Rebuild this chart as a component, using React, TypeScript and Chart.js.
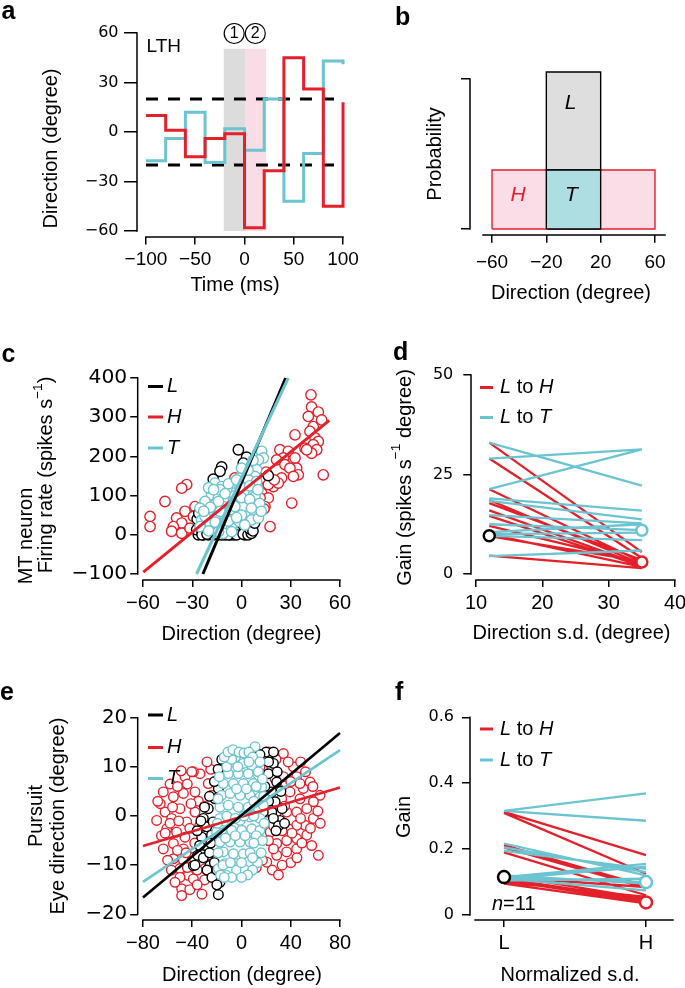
import React, { useEffect, useRef } from 'react';
import { Chart, registerables } from 'chart.js';

Chart.register(...registerables);

const PAGE_W = 685;
const PAGE_H = 988;
const RED = '#E3212A';
const CYAN = '#6BC4D0';
const SANS = '"Liberation Sans", Arial, Helvetica, sans-serif';
const WIDE = '"DejaVu Sans", Verdana, sans-serif';

// ---------------- panel a ----------------
const A_TIME = [-100, -80, -60, -40, -20, 0, 20, 40, 60, 80, 100];
const A_RED = [10, 1, -15, -4, -1, -58, -23.5, 45, 26, -45, 18];
const A_CYAN = [-17.5, -4, 12, -18.5, 2, -11, 20, -42, -13, 43, 41];
const A_LIMIT = 20;
const A_EPOCH1 = [-21, 1];
const A_EPOCH2 = [1, 22];
const A_EPOCH_Y = [-60, 50.5];
const A_XTICKS = [-100, -50, 0, 50, 100];
const A_YTICKS = [-60, -30, 0, 30, 60];

// ---------------- panel b ----------------
const B_L_RANGE = [-20, 20];
const B_H_RANGE = [-60, 60];
const B_L_PROB = 1.047;
const B_H_PROB = 0.393;
const B_XTICKS = [-60, -20, 20, 60];
const B_YTICKS = [0, 1];

// ---------------- panel c ----------------
const C_XTICKS = [-60, -30, 0, 30, 60];
const C_YTICKS = [-100, 0, 100, 200, 300, 400];
const C_FIT_L = [[-23.5, -100], [26.9, 400]];
const C_FIT_T = [[-27.4, -100], [28.5, 400]];
const C_FIT_H = [[-59.8, -95], [53.5, 292]];
const C_RED = [
  [42.3, 357], [42.7, 326], [46.8, 313], [40.7, 302], [48.8, 293], [43.7, 276], [32.6, 255], [41.7, 264],
  [44.8, 247], [46.8, 238], [43.7, 230], [45.8, 217], [42.7, 208], [38.7, 221], [23.4, 217], [28.5, 213],
  [32.6, 196], [25.5, 196], [21.4, 191], [26.5, 179], [33.6, 170], [29.5, 170], [34.6, 153], [31.6, 149],
  [49.8, 153], [24.4, 145], [19.4, 123], [22.4, 132], [16.3, 128], [12.3, 106], [16.3, 94], [14.3, 72],
  [30.6, 81], [17.4, 21], [-33.4, 128], [-36.4, 119], [-46.6, 85], [-55.7, 47], [-55.7, 21], [-28.3, 72],
  [-34.4, 60], [-39.5, 43], [-36.4, 30], [-41.5, 21], [-42.6, 9], [-36.4, 4], [-31.4, 17], [-29.3, 47],
  [-7, 123], [3.1, 123], [11.3, 94], [8.2, 72], [10.3, 64], [-24.3, 64], [-21.2, 38], [5.2, 47], [-0.9, 89],
  [13.7, 66], [7.2, 115], [-4, 145], [39.7, 217], [9, 150], [15, 160], [20, 140], [10, 125], [2, 100],
  [-15, 60], [-4, 80],
];
const C_BLACK = [
  [-1.9, 217], [3.1, 198], [1.1, 183], [-12.1, 173], [-13.1, 162], [16.3, 151], [-17.2, 142], [7.2, 72],
  [8.2, 81], [-26.3, 0], [-23.2, 0], [-20.2, 0], [-17.2, 0], [-14.1, 0], [-10, 0], [-7, 0], [-5, 0],
  [-2.9, 2], [-0.9, 13], [0.1, 4], [-1.9, 21], [-3.9, 9], [7.2, 64], [-27.3, 13], [-24, 5], [-19, 8],
  [-8, 3], [2, 0], [-12, 6], [-24, 0], [-21, 2], [-15, 3], [-12, 0], [-8, 0], [-3, 0], [1, 2], [4, 0],
  [6, 4], [-16, 10], [-11, 15], [-25, 25], [-27, 40], [-26, 55], [-18, 25], [5, 15], [7, 10], [8, 30],
];
const C_CYAN = [
  [12.3, 213], [13.3, 196], [10.3, 191], [6.2, 179], [9.2, 166], [3.1, 157], [8.2, 149], [-0.9, 145],
  [4.2, 140], [9.2, 136], [-16.1, 132], [-12.1, 123], [-8, 119], [-2.9, 111], [2.1, 106], [7.2, 102],
  [-18.2, 102], [-14.1, 94], [-9, 94], [-5, 85], [-0.9, 81], [3.1, 85], [8.2, 98], [-22.2, 85],
  [-16.1, 77], [-11.1, 72], [-7, 64], [-0.9, 60], [3.1, 55], [8.2, 55], [-25.3, 68], [-20.2, 55],
  [-15.1, 47], [-10, 47], [-6, 38], [-1.9, 34], [6.2, 38], [-24.3, 38], [-19.2, 30], [-14.1, 21],
  [-9, 21], [-25.3, 21], [-11.1, 4], [10.3, 43], [-13.1, 115], [-4, 132], [-0.9, 123], [-22.2, 47],
  [-6, 17], [1.1, 72], [-20, 120], [-17, 115], [-8, 130], [-3, 140], [5, 125], [10, 115], [-14, 85],
  [-10, 105], [-4, 100], [0, 95], [5, 90], [11, 80], [-19, 70], [-13, 60], [-4, 72], [0, 50], [6, 68],
  [-23, 60], [-16, 32], [-8, 35], [-3, 44], [2, 25], [-20, 10], [-14, 8], [-6, 8], [12, 60], [4, 165],
  [7, 190], [0, 170],
];

// ---------------- panel d ----------------
const D_SD = [12, 35];
const D_XTICKS = [10, 20, 30, 40];
const D_YTICKS = [0, 25, 50];
const D_RED_L = [33, 29, 21.3, 18.6, 17.8, 16, 14.6, 12.1, 10, 9.5, 4.6];
const D_RED_H = [5.5, 4, 3, 2.5, 3.5, 2.2, 2, 2.8, 1.8, 3.2, 1.5];
const D_CYAN_L = [33, 29, 21.3, 19, 18.4, 14.8, 12.5, 10.5, 10, 9.6, 4.5];
const D_CYAN_T = [22.2, 31.3, 31.3, 15.9, 13.7, 12.7, 11, 12.5, 10.4, 8.5, 5.9];
const D_MEAN_L = 9.6;
const D_MEAN_H = 3;
const D_MEAN_T = 11;

// ---------------- panel e ----------------
const E_XTICKS = [-80, -40, 0, 40, 80];
const E_YTICKS = [-20, -10, 0, 10, 20];
const E_FIT_L = [[-80, -16.6], [80, 16.9]];
const E_FIT_T = [[-80, -13.4], [80, 13.4]];
const E_FIT_H = [[-80, -6.1], [80, 5.8]];
const E_RED = [
  [-63.5, 4.9], [-55.3, 3.9], [-47.2, 4.6], [-37.8, 4.9], [-33.7, 8.6], [-39.1, 9], [-68.9, -0.9],
  [-62.1, 0.8], [-56.7, -0.5], [-50, 1.5], [-44.5, -1.2], [-37.8, 0.8], [-60.7, -2.6], [-52.7, -3.3],
  [-45.9, -4.3], [-63.5, -6.7], [-55.3, -5.6], [-47.2, -6.7], [-55.3, -8.7], [-47.2, -9], [-39.1, -8.4],
  [-50, -10.7], [-43.2, -12.1], [-48.6, -14.8], [-48.6, -16.2], [-32.1, -15.9], [-39.1, -12.8],
  [-29.6, -10.7], [-27, 6.6], [-24.3, 4.2], [-1.2, 12], [6.9, 12.4], [34, 12.7], [42.1, 10], [44.8, 8],
  [34, 8], [50.2, 5.6], [63.8, 4.2], [58.4, 2.9], [47.5, 3.5], [39.4, 4.9], [32.6, 3.5], [53, 1.5],
  [44.8, 0.8], [36.7, 0.8], [58.4, -0.5], [51.6, -1.9], [44.8, -1.9], [38, -2.6], [53, -3.9], [44.8, -4.6],
  [36.7, -5], [28.6, -5.6], [44.8, -6.7], [36.7, -7.3], [28.6, -8], [20.5, -9.4], [62.4, -8], [26, -6.7],
  [23.3, -3.3], [31.2, -1.2], [20.5, 0.8], [27.3, 7.6], [24.6, 10], [47.5, 6.6], [55.7, 6.9], [15, 10],
  [-45.9, 8], [-40.4, 9],
  [-66, 2.5], [-58, 6.5], [-52, 6], [-44, 6.5], [-35, 3], [-30, 2], [-65, -4], [-58, -1.5], [-51, -1],
  [-42, -2.5], [-34, -2], [-29, -4], [-60, -9], [-52, -7], [-45, -7.5], [-38, -5.5], [-32, -7], [-57, -11],
  [-50, -12.5], [-44, -10.5], [-36, -11], [-30, -13], [-54, -13.5], [-42, -15], [-36, -14], [-62, -3.5],
  [-68, 3], [-49, 9.2], [-56, 1.8], [-41, 2.5], [-25, 9.5], [-28, 11],
  [18, 12], [22, 13], [28, 11.5], [38, 11], [48, 11], [52, 9], [40, 7], [30, 5.5], [58, 6], [62, 1],
  [56, -2.5], [48, -0.5], [41, -3.5], [33, -3], [26, -2], [22, -5], [49, -5.5], [57, -6], [40, -9.5],
  [33, -10], [25, -11], [17, -9], [45, -8.5], [30, -12], [12, -10.5], [8, -9], [20, 4], [28, 0.5],
  [64, -1.5], [35, 2],
];
const E_BLACK = [
  [23.1, 12.7], [17.7, 11.4], [25.9, 10.7], [21.8, 8.6], [28.6, 6.9], [24.6, 4.9], [27.3, 2.9], [24.6, 0.8],
  [31.2, -0.9], [25.9, -0.5], [-14.8, 9], [-18.8, 5.6], [-21.5, 3.5], [-27, 1.5], [-31, -0.5], [-28.3, -2.2],
  [-32.3, -4.3], [-29.6, -6], [-27, -8], [-25.6, -10.1], [-21.5, -12.1], [-17.5, -13.5], [-18.8, -16],
  [-39.1, -10.1], [-35.6, -8], [-24.3, -3.9], [-23, -1.2], [-1.2, 11], [9.6, 12.4], [17.7, 0.8], [-37.8, -10],
  [-33, -1], [-30, 1.8], [-26, 4], [-22, 7], [-19, 9.5], [-16, 11.5], [-34, -6], [-31, -8.5], [-28, -11],
  [-24, -12.5], [-20, -14], [-36, -3], [-25, -5.5], [-26, -7.5], [-22, -9.5], [-20, -11],
  [20, 13], [26, 13], [29, 9], [32, 5], [33, 1.5], [30, -2], [22, 11], [19, 6], [22, 3], [35, -1.5],
  [15, 12.5], [28, -3],
];
const E_CYAN = [
  [11, 14.1], [-6.6, 11], [1.5, 10.7], [8.3, 10.3], [-10.7, 8.6], [-2.6, 8.6], [5.5, 8.6], [13.7, 8.3],
  [-14.8, 6.6], [-6.6, 6.6], [1.5, 6.6], [9.6, 6.6], [16.4, 5.9], [-16.1, 4.2], [-9.3, 4.6], [-1.2, 4.2],
  [6.9, 4.2], [15, 3.9], [-17.5, 1.8], [-10.7, 2.2], [-2.6, 1.8], [5.5, 1.8], [13.7, 1.5], [17.7, 2.2],
  [-17.5, -0.5], [-9.3, -0.5], [-1.2, -0.9], [6.9, -0.2], [15, -0.5], [-16.1, -2.9], [-8, -2.9], [0.1, -2.9],
  [8.3, -2.6], [15, -2.9], [-17.5, -5.3], [-9.3, -5.3], [-1.2, -5.3], [6.9, -5.3], [-14.8, -7.3], [-6.6, -7.7],
  [1.5, -7.7], [5.5, -9.4], [-13.4, -9.7], [-3.9, -9.7], [-12.1, -12.1], [-18.8, -10.7], [13.7, 9],
  [-20.2, -3.3], [-5, 12], [4, 12.5], [-12, 10], [10, 3], [-4, -11], [3, -11], [-8, 11.5], [12, -4],
  [-15, -10], [7, -7.5],
  [-18, 8], [-19, 3.5], [-19.5, -1.5], [-19, -7.5], [-17, -12], [-14, 12], [-11, 13], [-7, 13.5], [-2, 13],
  [2, 12.8], [6, 13], [9, 12], [15, 11], [17, 7.5], [18, 4], [18.5, -1.5], [17, -5], [16, -7.5], [13, -9.5],
  [9, -11], [5, -12], [0, -12.5], [-8, -12.5], [-14, -12.5], [-4, 5.5], [4, 5.5], [-12, 0], [-5, -0.5],
  [2, 0], [10, 0], [-13, -4.5], [-5, -4], [3, -4], [10, -5.5], [-9, -9.5], [0, -9.5], [9, -8.5], [-3, 10],
  [6, 11], [12, 6],
];

// ---------------- panel f ----------------
const F_SD = [1, 2];
const F_XTICKS = [1, 2];
const F_XLABELS = ['L', 'H'];
const F_YTICKS = [0, 0.2, 0.4, 0.6];
const F_RED_L = [0.313, 0.31, 0.212, 0.205, 0.19, 0.121, 0.115, 0.11, 0.105, 0.1, 0.095];
const F_RED_H = [0.182, 0.125, 0.088, 0.082, 0.06, 0.05, 0.085, 0.045, 0.04, 0.055, 0.035];
const F_CYAN_L = [0.316, 0.316, 0.217, 0.205, 0.195, 0.12, 0.115, 0.115, 0.11, 0.11, 0.105];
const F_CYAN_T = [0.369, 0.286, 0.12, 0.13, 0.14, 0.095, 0.155, 0.1, 0.147, 0.075, 0.11];
const F_MEAN_L = 0.115;
const F_MEAN_T = 0.1;
const F_MEAN_H = 0.038;

// ---------------- helpers ----------------
const fmtNum = (v: number) => (v < 0 ? '\u2212' + String(-v) : String(v));

type Seg = { t: string; i?: boolean; b?: boolean; sup?: boolean; c?: string };

function rich(ctx: any, segs: Seg[], x: number, y: number, size: number, o: any = {}) {
  const fam = o.family || SANS;
  const fontOf = (s: Seg) => `${s.i ? 'italic ' : ''}${s.b ? 'bold ' : ''}${s.sup ? size * 0.68 : size}px ${fam}`;
  ctx.save();
  let total = 0;
  const widths = segs.map((s) => {
    ctx.font = fontOf(s);
    const w = ctx.measureText(s.t).width;
    total += w;
    return w;
  });
  ctx.translate(x, y);
  if (o.rot) ctx.rotate(o.rot);
  let cx = o.align === 'center' ? -total / 2 : 0;
  ctx.textBaseline = o.baseline || 'middle';
  ctx.textAlign = 'left';
  segs.forEach((s, k) => {
    ctx.font = fontOf(s);
    ctx.fillStyle = s.c || o.color || '#000';
    ctx.fillText(s.t, cx, s.sup ? -size * 0.42 : 0);
    cx += widths[k];
  });
  ctx.restore();
}

function legendLine(ctx: any, x0: number, x1: number, y: number, color: string) {
  ctx.save();
  ctx.strokeStyle = color;
  ctx.lineWidth = 3;
  ctx.beginPath();
  ctx.moveTo(x0, y);
  ctx.lineTo(x1, y);
  ctx.stroke();
  ctx.restore();
}

const pts = (pairs: number[][]) => pairs.map(([x, y]) => ({ x, y }));
const stepPts = (xs: number[], ys: number[]) => xs.map((x, i) => ({ x, y: ys[i] }));
const pairLines = (xs: number[], left: number[], right: number[]) =>
  left.flatMap((v, i) => [{ x: xs[0], y: v }, { x: xs[1], y: right[i] }, { x: xs[1], y: null }]);

const lineDs = (data: any[], color: string, width: number, extra: any = {}) => ({
  data, showLine: true, borderColor: color, borderWidth: width, pointRadius: 0, fill: false, ...extra,
});
const dotDs = (pairs: number[][], color: string, r: number, bw: number) => ({
  data: pts(pairs), showLine: false, pointRadius: r, pointBorderWidth: bw, pointBorderColor: color,
  pointBackgroundColor: '#ffffff', borderColor: color, backgroundColor: '#ffffff',
});
const rectDs = (x0: number, x1: number, y0: number, y1: number, fillC: string, borderC: string, bw: number) => ({
  data: [{ x: x0, y: y0 }, { x: x1, y: y0 }, { x: x1, y: y1 }, { x: x0, y: y1 }, { x: x0, y: y0 }],
  showLine: true, fill: 'shape', backgroundColor: fillC, borderColor: borderC, borderWidth: bw, pointRadius: 0,
});

type Axis = { min: number; max: number; ticks: number[]; fmt?: (v: number) => string; family: string; size: number; pad: number; tl: number; line: number[] };
type Spec = { area: { l: number; t: number; r: number; b: number }; x: Axis; y: Axis; datasets: any[]; draw: (ctx: any) => void };

const axisCfg = (a: Axis, horiz: boolean, box: number) => ({
  type: 'linear',
  min: a.min,
  max: a.max,
  afterBuildTicks: (s: any) => {
    s.ticks = a.ticks.map((v) => ({ value: v }));
  },
  afterFit: (s: any) => {
    if (horiz) s.height = box;
    else s.width = box;
    s.paddingLeft = 0; s.paddingRight = 0; s.paddingTop = 0; s.paddingBottom = 0;
  },
  grid: { display: true, drawOnChartArea: false, drawTicks: true, tickLength: a.tl, tickWidth: 1.5, tickColor: '#000', color: '#000', lineWidth: 1.5 },
  border: { display: false },
  ticks: {
    autoSkip: false, maxRotation: 0, minRotation: 0, padding: a.pad, color: '#000',
    font: { family: a.family, size: a.size },
    callback: (v: number) => (a.fmt ? a.fmt(v) : fmtNum(v)),
  },
});

function buildChart(canvas: HTMLCanvasElement, spec: Spec) {
  const deco = {
    id: 'deco',
    afterDraw(chart: any) {
      const { ctx, chartArea: ca, scales } = chart;
      const xs = scales.x;
      const ys = scales.y;
      ctx.save();
      ctx.strokeStyle = '#000';
      ctx.lineWidth = 1.5;
      ctx.beginPath();
      ctx.moveTo(xs.getPixelForValue(spec.x.line[0]) - 0.75, ca.bottom);
      ctx.lineTo(xs.getPixelForValue(spec.x.line[1]) + 0.75, ca.bottom);
      ctx.moveTo(ca.left, ys.getPixelForValue(spec.y.line[0]) + 0.75);
      ctx.lineTo(ca.left, ys.getPixelForValue(spec.y.line[1]) - 0.75);
      ctx.stroke();
      ctx.restore();
      spec.draw(ctx);
    },
  };
  return new Chart(canvas, {
    type: 'scatter',
    data: { datasets: spec.datasets },
    options: {
      responsive: false,
      animation: false,
      devicePixelRatio: 1,
      events: [],
      layout: {
        autoPadding: false,
        padding: { left: 0, top: spec.area.t, right: PAGE_W - spec.area.r, bottom: 0 },
      },
      plugins: { legend: { display: false }, tooltip: { enabled: false }, title: { display: false } },
      scales: {
        x: axisCfg(spec.x, true, PAGE_H - spec.area.b),
        y: axisCfg(spec.y, false, spec.area.l),
      },
    } as any,
    plugins: [deco],
  } as any);
}

const ROT = -Math.PI / 2;
const letter = (ctx: any, s: string, x: number, y: number) => rich(ctx, [{ t: s, b: true }], x, y, 25, { baseline: 'alphabetic' });

const SPECS: Spec[] = [
  // a
  {
    area: { l: 137, t: 27, r: 352, b: 237 },
    x: { min: -109.1, max: 109.1, ticks: A_XTICKS, family: SANS, size: 19, pad: 4, tl: 7.5, line: [-100, 100] },
    y: { min: -63.64, max: 63.64, ticks: A_YTICKS, family: WIDE, size: 16, pad: 5.5, tl: 13, line: [-60, 60] },
    datasets: [
      lineDs(stepPts(A_TIME, A_RED), RED, 3, { stepped: true }),
      lineDs(stepPts(A_TIME, A_CYAN), CYAN, 3, { stepped: true }),
      lineDs([{ x: A_TIME[0], y: A_LIMIT }, { x: A_TIME[A_TIME.length - 1], y: A_LIMIT }], '#000', 2.8, { borderDash: [12, 10] }),
      lineDs([{ x: A_TIME[0], y: -A_LIMIT }, { x: A_TIME[A_TIME.length - 1], y: -A_LIMIT }], '#000', 2.8, { borderDash: [12, 10] }),
      rectDs(A_EPOCH2[0], A_EPOCH2[1], A_EPOCH_Y[0], A_EPOCH_Y[1], '#FADCE6', 'rgba(0,0,0,0)', 0),
      rectDs(A_EPOCH1[0], A_EPOCH1[1], A_EPOCH_Y[0], A_EPOCH_Y[1], '#DCDCDC', 'rgba(0,0,0,0)', 0),
    ],
    draw: (ctx) => {
      letter(ctx, 'a', 1.5, 18.5);
      rich(ctx, [{ t: 'Time (ms)' }], 235, 285.5, 20, { align: 'center' });
      rich(ctx, [{ t: 'Direction (degree)' }], 51.5, 148.5, 20, { align: 'center', rot: ROT });
      rich(ctx, [{ t: 'LTH' }], 146.5, 46.3, 19);
      ctx.save();
      ctx.strokeStyle = '#000';
      ctx.lineWidth = 1.2;
      ctx.fillStyle = '#fff';
      [[234.2, '1'], [255.3, '2']].forEach(([cx, s]: any) => {
        ctx.beginPath();
        ctx.arc(cx, 33.5, 10, 0, Math.PI * 2);
        ctx.fill();
        ctx.stroke();
        rich(ctx, [{ t: s }], cx, 34, 16, { align: 'center' });
      });
      ctx.restore();
    },
  },
  // b
  {
    area: { l: 470, t: 60, r: 670, b: 235 },
    x: { min: -76.2, max: 71.05, ticks: B_XTICKS, family: SANS, size: 19, pad: 9, tl: 7.7, line: [-66.6, 67.4] },
    y: { min: -0.04, max: 1.1267, ticks: B_YTICKS, fmt: () => '', family: SANS, size: 16, pad: 2, tl: 9, line: [0, 1] },
    datasets: [
      rectDs(B_L_RANGE[0], B_L_RANGE[1], 0, B_H_PROB, '#ADDFE2', '#000', 1.4),
      rectDs(B_L_RANGE[0], B_L_RANGE[1], B_H_PROB, B_L_PROB, '#DEDEDE', '#000', 1.4),
      rectDs(B_H_RANGE[0], B_H_RANGE[1], 0, B_H_PROB, '#FBDDE8', RED, 1.4),
    ],
    draw: (ctx) => {
      letter(ctx, 'b', 395, 25);
      rich(ctx, [{ t: 'Probability' }], 435, 154, 20, { align: 'center', rot: ROT });
      rich(ctx, [{ t: 'Direction (degree)' }], 571, 293, 20, { align: 'center' });
      rich(ctx, [{ t: 'L', i: true }], 570.5, 103, 21, { align: 'center' });
      rich(ctx, [{ t: 'T', i: true }], 571.5, 195, 21, { align: 'center' });
      rich(ctx, [{ t: 'H', i: true, c: RED }], 518, 195, 21, { align: 'center' });
    },
  },
  // c
  {
    area: { l: 137.7, t: 372, r: 345, b: 580 },
    x: { min: -63.23, max: 63.05, ticks: C_XTICKS, family: SANS, size: 20, pad: 4, tl: 7, line: [-60, 60] },
    y: { min: -115.3, max: 415.3, ticks: C_YTICKS, family: WIDE, size: 20.3, pad: 3, tl: 7.5, line: [-100, 400] },
    datasets: [
      lineDs(pts(C_FIT_T), CYAN, 3),
      lineDs(pts(C_FIT_L), '#000', 3),
      lineDs(pts(C_FIT_H), RED, 3),
      dotDs(C_CYAN, CYAN, 5.2, 1.4),
      dotDs(C_BLACK, '#000', 5.2, 1.4),
      dotDs(C_RED, RED, 5.2, 1.4),
    ],
    draw: (ctx) => {
      letter(ctx, 'c', 1.5, 362);
      rich(ctx, [{ t: 'MT neuron' }], 26.7, 536, 20, { align: 'center', rot: ROT });
      rich(ctx, [{ t: 'Firing rate (spikes s' }, { t: '\u22121', sup: true }, { t: ')' }], 46.3, 475, 20, { align: 'center', rot: ROT });
      rich(ctx, [{ t: 'Direction (degree)' }], 241.5, 634, 20, { align: 'center' });
      const ly = [386.5, 417, 448];
      const lc = ['#000', RED, CYAN];
      const lt = ['L', 'H', 'T'];
      ly.forEach((y, k) => {
        legendLine(ctx, 148, 163, y, lc[k]);
        rich(ctx, [{ t: lt[k], i: true }], 167, y, 20);
      });
    },
  },
  // d
  {
    area: { l: 471, t: 369, r: 680, b: 580 },
    x: { min: 9.246, max: 40.754, ticks: D_XTICKS, family: SANS, size: 20, pad: 4, tl: 7, line: [10, 40] },
    y: { min: -1.508, max: 51.508, ticks: D_YTICKS, family: WIDE, size: 16, pad: 10, tl: 7.7, line: [0, 50] },
    datasets: [
      dotDs([[D_SD[0], D_MEAN_L]], '#000', 5.5, 2.5),
      dotDs([[D_SD[1], D_MEAN_H]], RED, 5.5, 2.5),
      dotDs([[D_SD[1], D_MEAN_T]], CYAN, 5.5, 2.5),
      lineDs(pairLines(D_SD, D_CYAN_L, D_CYAN_T), CYAN, 2.3),
      lineDs(pairLines(D_SD, D_RED_L, D_RED_H), RED, 2.3),
    ],
    draw: (ctx) => {
      letter(ctx, 'd', 393, 360);
      rich(ctx, [{ t: 'Gain (spikes s' }, { t: '\u22121', sup: true }, { t: ' degree)' }], 405, 477.5, 20, { align: 'center', rot: ROT });
      rich(ctx, [{ t: 'Direction s.d. (degree)' }], 571.5, 633.5, 20, { align: 'center' });
      legendLine(ctx, 480, 493, 387.5, RED);
      rich(ctx, [{ t: 'L', i: true }, { t: ' to ' }, { t: 'H', i: true }], 500, 387.5, 20);
      legendLine(ctx, 480, 493, 417.5, CYAN);
      rich(ctx, [{ t: 'L', i: true }, { t: ' to ' }, { t: 'T', i: true }], 500, 417.5, 20);
    },
  },
  // e
  {
    area: { l: 137.7, t: 712, r: 345, b: 920 },
    x: { min: -84.3, max: 84.06, ticks: E_XTICKS, family: SANS, size: 20, pad: 4, tl: 7, line: [-80, 80] },
    y: { min: -21.16, max: 21.16, ticks: E_YTICKS, family: WIDE, size: 19.8, pad: 3, tl: 7.5, line: [-20, 20] },
    datasets: [
      lineDs(pts(E_FIT_L), '#000', 2.6),
      lineDs(pts(E_FIT_T), CYAN, 2.6),
      lineDs(pts(E_FIT_H), RED, 2.6),
      dotDs(E_CYAN, CYAN, 4.8, 1.4),
      dotDs(E_BLACK, '#000', 4.8, 1.4),
      dotDs(E_RED, RED, 4.8, 1.4),
    ],
    draw: (ctx) => {
      letter(ctx, 'e', 0, 700);
      rich(ctx, [{ t: 'Pursuit' }], 36, 816, 20, { align: 'center', rot: ROT });
      rich(ctx, [{ t: 'Eye direction (degree)' }], 58.7, 816, 20, { align: 'center', rot: ROT });
      rich(ctx, [{ t: 'Direction (degree)' }], 242, 975, 20, { align: 'center' });
      const ly = [715, 747.5, 778.5];
      const lc = ['#000', RED, CYAN];
      const lt = ['L', 'H', 'T'];
      ly.forEach((y, k) => {
        legendLine(ctx, 148, 163, y, lc[k]);
        rich(ctx, [{ t: lt[k], i: true }], 167, y, 20);
      });
    },
  },
  // f
  {
    area: { l: 470, t: 711, r: 673, b: 920 },
    x: { min: 0.7606, max: 2.19, ticks: F_XTICKS, fmt: (v: number) => F_XLABELS[F_XTICKS.indexOf(v)] || '', family: SANS, size: 20, pad: 4, tl: 7, line: [0.796, 2.19] },
    y: { min: -0.01517, max: 0.6191, ticks: F_YTICKS, family: WIDE, size: 16, pad: 8, tl: 8, line: [0, 0.6] },
    datasets: [
      dotDs([[F_SD[0], F_MEAN_L]], '#000', 6, 2.5),
      dotDs([[F_SD[1], F_MEAN_H]], RED, 6, 2.5),
      dotDs([[F_SD[1], F_MEAN_T]], CYAN, 6, 2.5),
      lineDs(pairLines(F_SD, F_CYAN_L, F_CYAN_T), CYAN, 2.3),
      lineDs(pairLines(F_SD, F_RED_L, F_RED_H), RED, 2.3),
    ],
    draw: (ctx) => {
      letter(ctx, 'f', 395, 700);
      rich(ctx, [{ t: 'Gain' }], 404.5, 817, 20, { align: 'center', rot: ROT });
      rich(ctx, [{ t: 'Normalized s.d.' }], 570, 975.5, 20, { align: 'center' });
      legendLine(ctx, 480, 493, 729, RED);
      rich(ctx, [{ t: 'L', i: true }, { t: ' to ' }, { t: 'H', i: true }], 500, 729, 20);
      legendLine(ctx, 480, 493, 760, CYAN);
      rich(ctx, [{ t: 'L', i: true }, { t: ' to ' }, { t: 'T', i: true }], 500, 760, 20);
      rich(ctx, [{ t: 'n', i: true }, { t: '=11' }], 492, 904, 20);
    },
  },
];

function Panel({ spec }: { spec: Spec }) {
  const ref = useRef<HTMLCanvasElement>(null);
  useEffect(() => {
    const chart = buildChart(ref.current as HTMLCanvasElement, spec);
    return () => chart.destroy();
  }, [spec]);
  return (
    <canvas
      ref={ref}
      width={PAGE_W}
      height={PAGE_H}
      style={{ position: 'absolute', left: 0, top: 0, width: PAGE_W, height: PAGE_H }}
    />
  );
}

export default function App() {
  return (
    <div style={{ position: 'absolute', left: 0, top: 0, width: PAGE_W, height: PAGE_H, background: '#fff', overflow: 'hidden' }}>
      {SPECS.map((s, i) => (
        <Panel key={i} spec={s} />
      ))}
    </div>
  );
}
